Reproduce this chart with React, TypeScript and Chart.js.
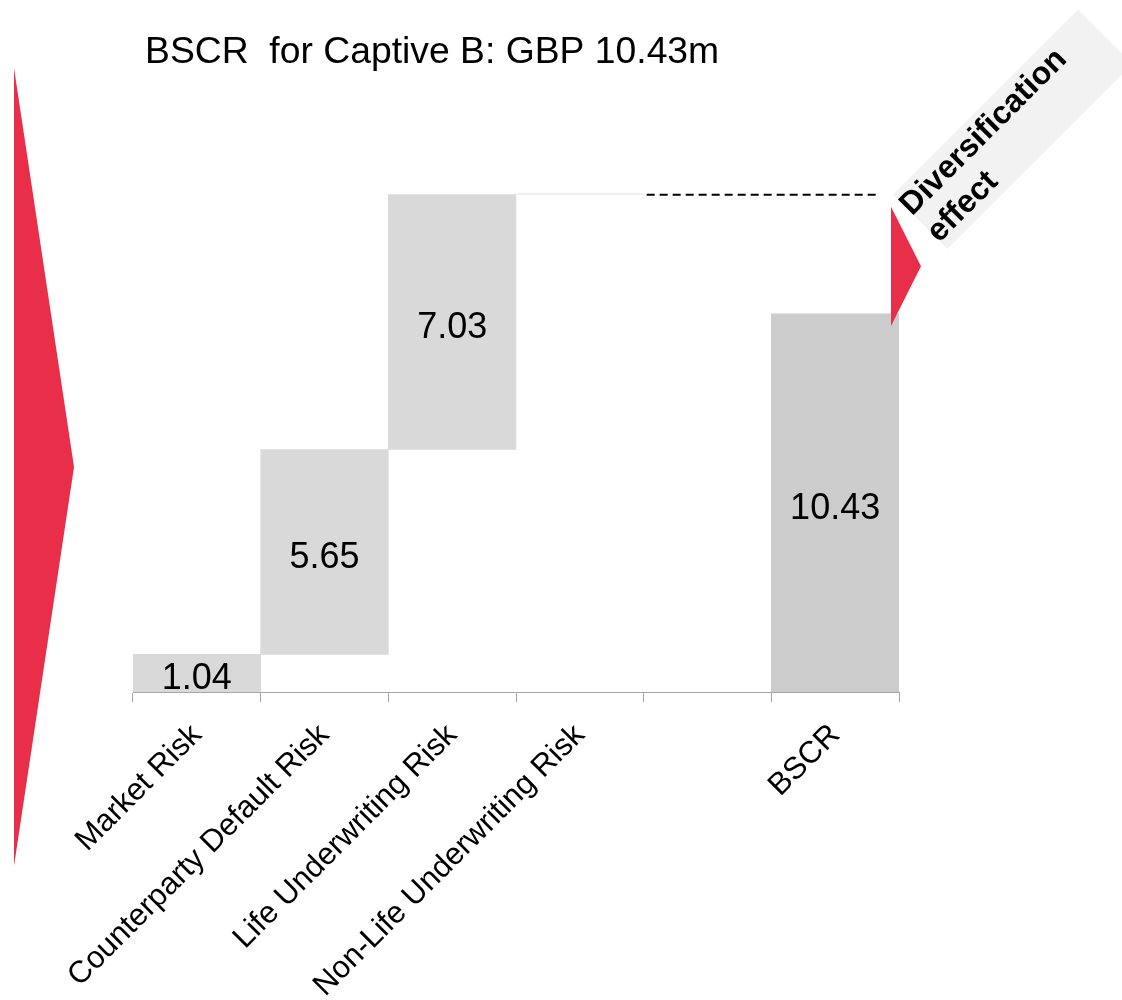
import React, { useEffect, useRef } from 'react';
import { Chart, registerables } from 'chart.js';

Chart.register(...registerables);

const FONT = '"Liberation Sans", Arial, Helvetica, sans-serif';

// Solvency capital build-up, GBP m
const categories = [
  'Market Risk',
  'Counterparty Default Risk',
  'Life Underwriting Risk',
  'Non-Life Underwriting Risk',
  '',
  'BSCR',
];
const riskCharges = [1.04, 5.65, 7.03, 0.0];
const bscrValue = 10.43;
const titleText = 'BSCR  for Captive B: GBP 10.43m';
const diversificationLines = ['Diversification', 'effect'];
const yMax = 16;

const RED = '#e82e48';
const STEP_GREY = '#d9d9d9';
const ZERO_GREY = '#eeeeee';
const TOTAL_GREY = '#cccccc';

// Floating segments: each risk charge starts where the previous one ended
let running = 0;
const stepSegments = riskCharges.map((v) => {
  const seg: [number, number] = [running, running + v];
  running += v;
  return seg;
});
const undiversifiedTotal = running;
const barData: ([number, number] | null)[] = [...stepSegments, null, [0, bscrValue]];
const barColors = [
  ...riskCharges.map((v) => (v > 0 ? STEP_GREY : ZERO_GREY)),
  'rgba(0,0,0,0)',
  TOTAL_GREY,
];
const barLabels = [
  ...riskCharges.map((v) => (v > 0 ? v.toFixed(2) : '')),
  '',
  bscrValue.toFixed(2),
];

const decorPlugin = {
  id: 'waterfallDecor',
  afterDatasetsDraw(chart: any) {
    const { ctx, chartArea, scales } = chart;
    const yScale = scales.y;
    const xScale = scales.x;
    const meta = chart.getDatasetMeta(0);

    // values inside the bars
    ctx.save();
    ctx.fillStyle = '#000';
    ctx.font = `36px ${FONT}`;
    ctx.textAlign = 'center';
    ctx.textBaseline = 'alphabetic';
    meta.data.forEach((bar: any, i: number) => {
      const label = barLabels[i];
      if (!label) return;
      const cy = (bar.y + bar.base) / 2;
      ctx.fillText(label, bar.x, cy + 16);
    });
    ctx.restore();

    const topY = yScale.getPixelForValue(undiversifiedTotal);
    const bscrY = yScale.getPixelForValue(bscrValue);
    const xRight = chartArea.right;
    const half = xScale.width / categories.length / 2;
    const dashStart = xScale.getPixelForValue(4) - half;

    // dashed reference at the undiversified total
    ctx.save();
    ctx.strokeStyle = '#000';
    ctx.lineWidth = 2;
    ctx.setLineDash([8, 5]);
    ctx.beginPath();
    ctx.moveTo(dashStart + 3, topY);
    ctx.lineTo(xRight - 19, topY);
    ctx.stroke();
    ctx.restore();

    // grey callout box with rotated caption
    ctx.save();
    ctx.translate(xRight - 6, topY);
    ctx.rotate(-Math.PI / 4);
    ctx.fillStyle = '#f2f2f2';
    ctx.fillRect(0, 0, 262, 77);
    ctx.fillStyle = '#000';
    ctx.font = `bold 32px ${FONT}`;
    ctx.textAlign = 'left';
    ctx.textBaseline = 'alphabetic';
    ctx.fillText(diversificationLines[0], -2, 29);
    ctx.fillText(diversificationLines[1], -2, 67);
    ctx.restore();

    // red wedge spanning the diversification effect
    ctx.save();
    ctx.fillStyle = RED;
    ctx.beginPath();
    ctx.moveTo(xRight - 8, topY + 12);
    ctx.lineTo(xRight + 22, (topY + bscrY) / 2 + 12);
    ctx.lineTo(xRight - 8, bscrY + 12);
    ctx.closePath();
    ctx.fill();
    ctx.restore();
  },
  afterDraw(chart: any) {
    const { ctx, chartArea } = chart;
    // title
    ctx.save();
    ctx.fillStyle = '#000';
    ctx.font = `37.3px ${FONT}`;
    ctx.textAlign = 'left';
    ctx.textBaseline = 'alphabetic';
    ctx.fillText(titleText, chartArea.left + 12, 63);
    ctx.restore();

    // large red arrow on the left
    ctx.save();
    ctx.fillStyle = RED;
    ctx.beginPath();
    ctx.moveTo(14, 68);
    ctx.lineTo(74, 467);
    ctx.lineTo(14, 866);
    ctx.closePath();
    ctx.fill();
    ctx.restore();
  },
};

export default function App() {
  const canvasRef = useRef<HTMLCanvasElement | null>(null);

  useEffect(() => {
    if (!canvasRef.current) return;
    const chart = new Chart(canvasRef.current, {
      type: 'bar',
      data: {
        labels: categories,
        datasets: [
          {
            data: barData as any,
            backgroundColor: barColors,
            borderWidth: 0,
            barPercentage: 1,
            categoryPercentage: 1,
            minBarLength: 1,
          },
        ],
      },
      options: {
        responsive: false,
        animation: false,
        layout: { padding: { left: 133, right: 223, top: 112, bottom: 0 } },
        plugins: {
          legend: { display: false },
          tooltip: { enabled: false },
          title: { display: false },
        },
        scales: {
          x: {
            grid: {
              display: true,
              drawOnChartArea: false,
              drawTicks: true,
              tickLength: 10,
              color: '#a6a6a6',
              offset: true,
            },
            border: { display: true, color: '#a6a6a6', width: 1 },
            ticks: {
              autoSkip: false,
              minRotation: 45,
              maxRotation: 45,
              padding: 15,
              color: '#000',
              font: { family: FONT, size: 31 },
            },
            afterFit: (scale: any) => {
              scale.height = 308;
            },
          },
          y: { display: false, min: 0, max: yMax },
        },
      },
      plugins: [decorPlugin],
    });
    return () => chart.destroy();
  }, []);

  return (
    <div style={{ position: 'absolute', left: 0, top: 0, width: 1122, height: 1000 }}>
      <canvas ref={canvasRef} width={1122} height={1000} style={{ display: 'block' }} />
    </div>
  );
}
